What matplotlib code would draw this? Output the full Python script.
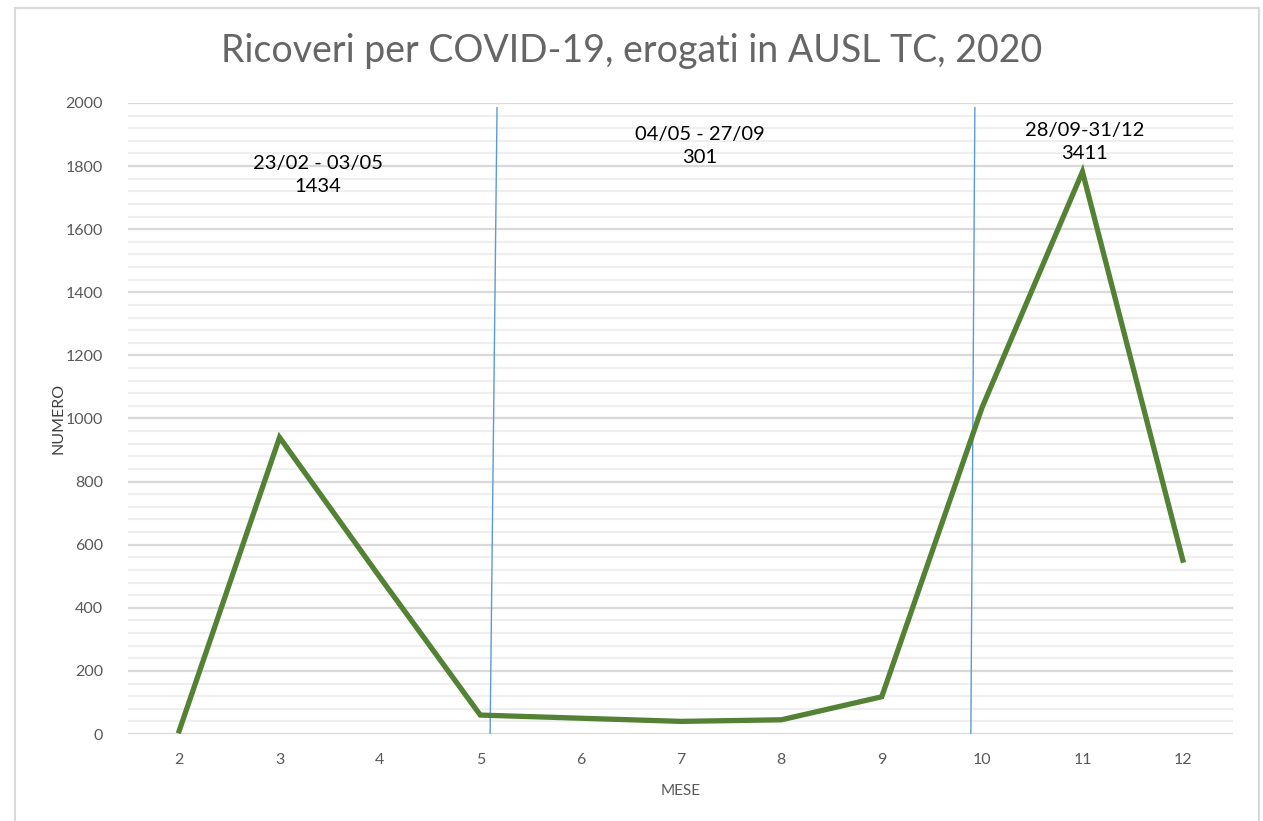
import matplotlib.pyplot as plt
from matplotlib.lines import Line2D

mesi = [2, 3, 4, 5, 6, 7, 8, 9, 10, 11, 12]
ricoveri = [10, 940, 497, 60, 50, 40, 45, 118, 1035, 1782, 551]

# periodi: testo e totali
periodi = ["23/02 - 03/05", "04/05 - 27/09", "28/09-31/12"]
totali = ["1434", "301", "3411"]
pos_periodi = [3.38, 7.19, 11.02]
y_periodi = [1772, 1864, 1876]

# linee di separazione (leggermente inclinate come nell'originale)
sep_top = [5.167, 9.928]
sep_bottom = [5.098, 9.888]

plt.rcParams['font.family'] = ['Lato', 'DejaVu Sans']

fig = plt.figure(figsize=(12.63, 8.21), dpi=100)
ax = fig.add_axes([128 / 1263, 87 / 821, 1105 / 1263, 631 / 821])

# griglia
for v in range(0, 2001, 40):
    if v % 200 == 0:
        ax.axhline(v, color="#d9d9d9", lw=1.6, zorder=1)
    else:
        ax.axhline(v, color="#efefef", lw=1.6, zorder=1)

for xt, xb in zip(sep_top, sep_bottom):
    ax.plot([xt, xb], [1985, 0], color="#5b9bd5", lw=1.0, zorder=2)

ax.plot(mesi, ricoveri, color="#548235", lw=3.8, solid_joinstyle="miter", zorder=3)

for x, y, p, t in zip(pos_periodi, y_periodi, periodi, totali):
    ax.text(x, y, p + "\n" + t, ha="center", va="center", fontsize=14.5,
            color="black", linespacing=1.45, zorder=4)

ax.set_xlim(1.49, 12.5)
ax.set_ylim(0, 2000)
ax.set_xticks(mesi)
ax.set_yticks(range(0, 2001, 200))
ax.tick_params(length=0, colors="#595959", labelsize=11.5)
ax.tick_params(axis="x", pad=14)
ax.tick_params(axis="y", pad=18)
for s in ax.spines.values():
    s.set_visible(False)

ax.set_xlabel("MESE", color="#595959", fontsize=11, labelpad=12)
ax.set_ylabel("NUMERO", color="#404040", fontsize=11.5, labelpad=0)

fig.text(0.5, 0.938, "Ricoveri per COVID-19, erogati in AUSL TC, 2020",
         ha="center", va="center", fontsize=27, color="#666666")

# bordo del grafico
bx0, bx1, by1 = 15 / 1263, 1259 / 1263, 1 - 8 / 821
for xs, ys in [([bx0, bx0], [0, by1]), ([bx1, bx1], [0, by1]), ([bx0, bx1], [by1, by1])]:
    fig.add_artist(Line2D(xs, ys, color="#d9d9d9", lw=1.5, transform=fig.transFigure))

fig.savefig("out.png", dpi=100, facecolor="white")
